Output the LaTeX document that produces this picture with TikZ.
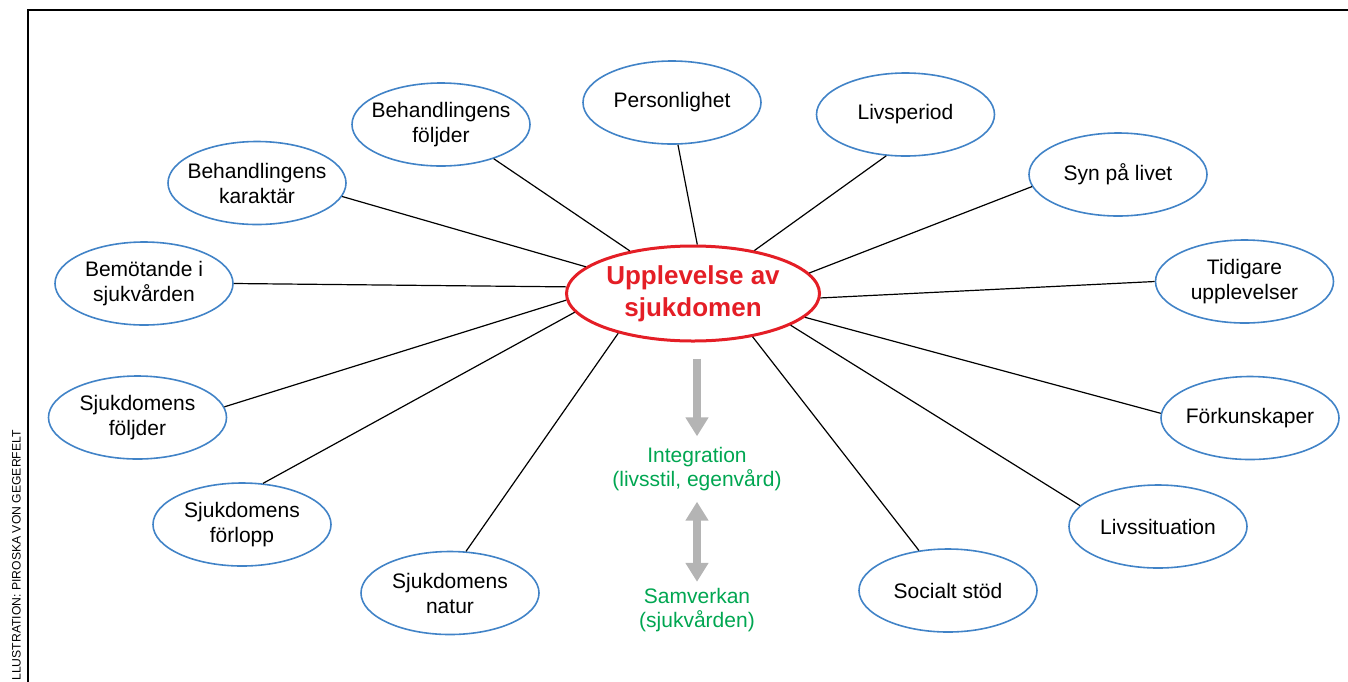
\documentclass[tikz,border=0pt]{standalone}
\usepackage{fontspec}
\setmainfont{Liberation Sans}
\usetikzlibrary{shapes.geometric,arrows.meta}
\definecolor{ringblue}{RGB}{65,131,199}
\definecolor{corered}{RGB}{228,30,38}
\definecolor{notegreen}{RGB}{0,166,81}
\definecolor{arrowgray}{RGB}{180,180,180}

\begin{document}
\begin{tikzpicture}[x=0.5pt,y=-0.5pt,
				main node/.style = {ellipse,draw=ringblue,line width=0.8pt,inner xsep=-6pt,inner ysep=0pt,minimum width=89pt,minimum height=41.5pt,align=center,font=\fontsize{10.5}{12.5}\selectfont},
				core node/.style = {ellipse,draw=corered,line width=1.5pt,inner sep=0pt,minimum width=126.5pt,minimum height=47.5pt,align=center,text=corered,font=\fontsize{13}{16}\selectfont\bfseries},
				note node/.style = {align=center,text=notegreen,inner sep=0pt,font=\fontsize{10.5}{12}\selectfont},
				fat arrow/.style = {draw=arrowgray,line width=3.75pt}]
				\useasboundingbox (0,0) rectangle (1348,681);
				\draw[line width=1pt] (28,690) -- (28,9.5) -- (1360,9.5);
				\node[rotate=90,anchor=base west,inner sep=0pt,font=\fontsize{6.1}{7}\selectfont] (credit) at (20.5,681) {LLUSTRATION: PIROSKA VON GEGERFELT};
				
				\node[core node] (0) at (693,293.5) {Upplevelse av\\sjukdomen};
				\node[main node] (1) at (144,283.5) {Bemötande i\\sjukvården};
				\node[main node] (2) at (257,183) {Behandlingens\\karaktär};
				\node[main node] (3) at (441,124.5) {Behandlingens\\följder};
				\node[main node] (4) at (672,102.5) {Personlighet};
				\node[main node] (5) at (905.5,114.5) {Livsperiod};
				\node[main node] (6) at (1118,174.5) {Syn på livet};
				\node[main node] (7) at (1244.5,281.5) {Tidigare\\upplevelser};
				\node[main node] (8) at (1250,418) {Förkunskaper};
				\node[main node] (9) at (1158,526.5) {Livssituation};
				\node[main node] (10) at (948,590.5) {Socialt stöd};
				\node[main node] (11) at (450,593) {Sjukdomens\\natur};
				\node[main node] (12) at (242,524.5) {Sjukdomens\\förlopp};
				\node[main node] (13) at (137.5,417.5) {Sjukdomens\\följder};
				\node[note node] (14) at (697,469.5) {Integration\\(livsstil, egenvård)};
				\node[note node] (15) at (697,610) {Samverkan\\(sjukvården)};
				
				\path[-,line width=0.6pt]
				(0.177) edge (1.0)
				(0.166) edge (2.351)
				(0.146) edge (3.327)
				(0.85) edge (4.278)
				(0.35) edge (5.245)
				(0.10) edge (6.188)
				(0.358) edge (7.180)
				(0.348) edge (8.177)
				(0.342) edge (9.165)
				(0.324) edge (10.126)
				(0.208) edge (11.69)
				(0.189) edge (12.63)
				(0.183) edge (13.7);
				
				\draw[fat arrow,-{Triangle[width=11pt,length=9.5pt]},shorten <=8pt,shorten >=5.5pt] (0.south -| 14.north) -- (14.north);
				\draw[fat arrow,{Triangle[width=11pt,length=9.5pt]}-{Triangle[width=11pt,length=9.5pt]},shorten <=5pt,shorten >=3pt] (14.south) -- (15.north);
\end{tikzpicture}
\end{document}
